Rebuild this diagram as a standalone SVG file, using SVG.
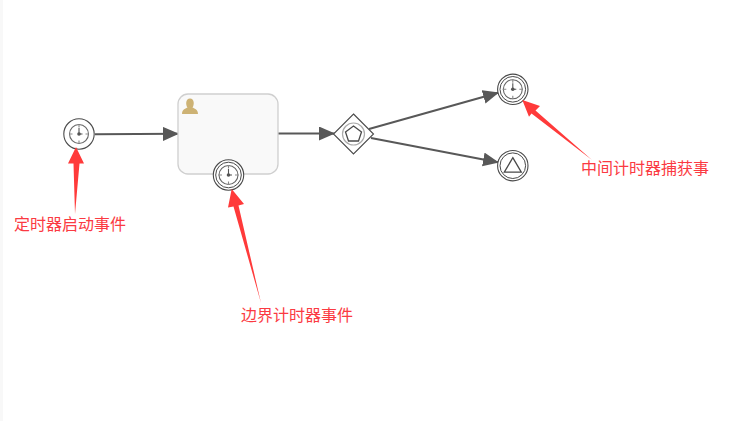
<svg xmlns="http://www.w3.org/2000/svg" width="735" height="421" viewBox="0 0 735 421">
<style>
.ring{fill:#fff;stroke:#4a4a4a;stroke-width:1.100}
.inner{fill:none;stroke:#4a4a4a;stroke-width:1}
.icon{fill:none;stroke:#666;stroke-width:1.100}
.tick{stroke:#888;stroke-width:1.100}
.hand{stroke:#555;stroke-width:1.100;fill:none}
.flow{fill:none;stroke:#585858;stroke-width:2}
.note{fill:#ff3a3a;stroke:none}
.lbl{font-family:"Microsoft YaHei","Noto Sans CJK SC",sans-serif;font-size:16px;fill:#fb3a42}
</style>
<defs>
<marker id="ah" markerUnits="userSpaceOnUse" markerWidth="18" markerHeight="16" refX="16" refY="7" orient="auto"><path d="M0 0L16 7L0 14Z" fill="#585858"/></marker>
<g id="clock">
<circle r="9.500" class="icon"/>
<path class="tick" d="M0-10V-6.500M0 6.500V10M-10 0H-6.500M6.500 0H10"/>
<path class="hand" d="M0 0V-6M0 0H3.500"/>
<circle r="1.800" fill="#555"/>
</g>
</defs>
<rect width="735" height="421" fill="#fff"/>
<rect x="0" y="0" width="3" height="421" fill="#f8f8f8"/>
<g id="connectors">
<path class="flow" d="M95 134.300L179 133.800" marker-end="url(#ah)"/>
<path class="flow" d="M278 133.500H335" marker-end="url(#ah)"/>
<path class="flow" d="M369 129L499 92.500" marker-end="url(#ah)"/>
<path class="flow" d="M371 138L499 162.500" marker-end="url(#ah)"/>
</g>
<g id="task">
<rect x="178" y="94" width="100" height="80" rx="10" fill="#f9f9f9" stroke="#cfcfcf" stroke-width="1.300"/>
<path d="M182 114C182 109 186 108.500 187.500 107.500C185.500 105 185.500 98.500 190 98.500C194.500 98.500 194.500 105 192.500 107.500C194 108.500 198 109 198 114Z" fill="#cdb274"/>
</g>
<g id="start-event" transform="translate(79 134)">
<circle r="15.200" class="ring"/>
<use href="#clock"/>
</g>
<g id="boundary-event" transform="translate(228.500 175)">
<circle r="15.200" class="ring"/>
<circle r="12.800" class="inner"/>
<use href="#clock"/>
</g>
<g id="gateway" transform="translate(353.500 134)">
<path d="M0-20L20 0L0 20L-20 0Z" fill="#fff" stroke="#4a4a4a" stroke-width="1.100"/>
<circle r="11" fill="none" stroke="#aaa" stroke-width="1.200"/>
<path d="M0-8L8-2L5 7H-5L-8-2Z" fill="none" stroke="#4a4a4a" stroke-width="1.300"/>
</g>
<g id="intermediate-event" transform="translate(512.800 89.300)">
<circle r="15.200" class="ring"/>
<circle r="12.800" class="inner"/>
<use href="#clock"/>
</g>
<g id="end-event" transform="translate(512.800 165.700)">
<circle r="15.200" class="ring"/>
<circle r="12.800" class="inner"/>
<path d="M0-8L8.500 6.500H-8.500Z" fill="none" stroke="#4a4a4a" stroke-width="1.300"/>
</g>
<g id="annotations">
<path class="note" d="M76 147L84 163.500L79.500 163.500L75 214L73.500 163.500L68 163.500Z"/>
<path class="note" d="M231.700 189L244 204L238.500 205.500L261 303L233.500 206.500L228 207.500Z"/>
<path class="note" d="M522.300 100L540 106L535.500 110.500L592 160L531.500 113.500L529 116.700Z"/>
<text class="lbl" x="14" y="230">定时器启动事件</text>
<text class="lbl" x="241" y="321">边界计时器事件</text>
<text class="lbl" x="581" y="174">中间计时器捕获事</text>
</g>
</svg>
